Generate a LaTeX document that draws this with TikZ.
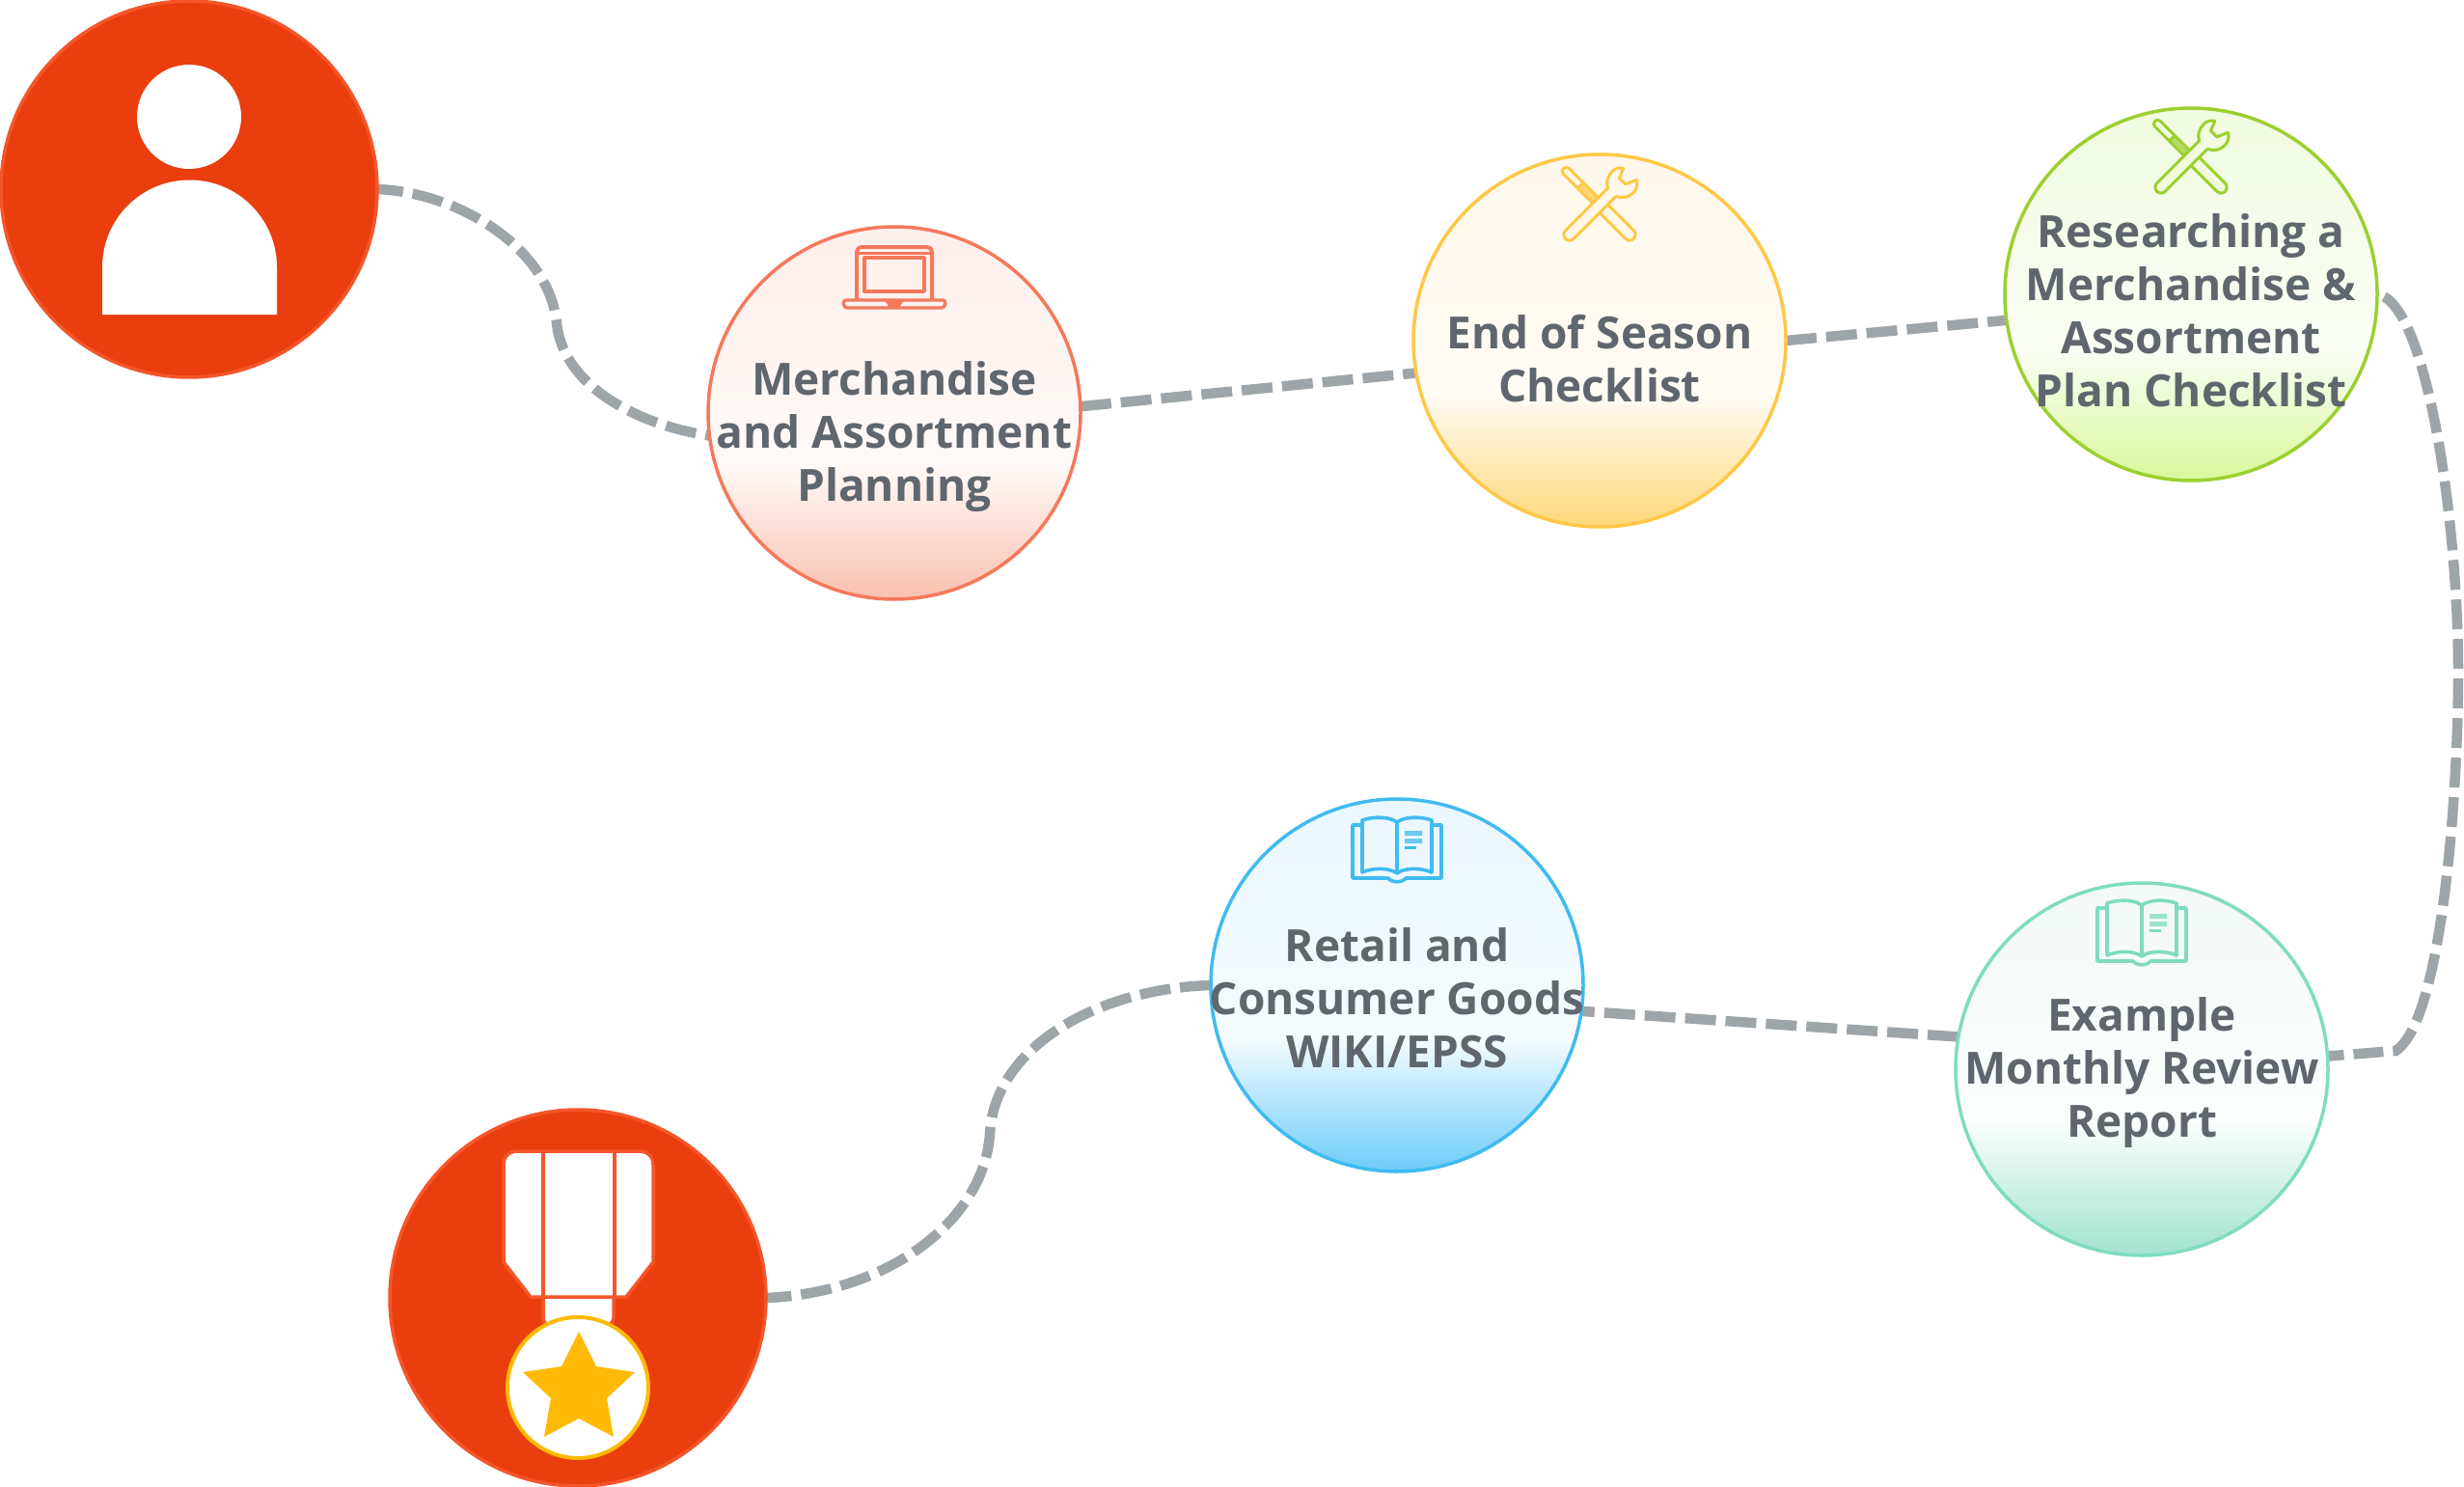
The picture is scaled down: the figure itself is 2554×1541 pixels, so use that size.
\documentclass[tikz,border=0pt]{standalone}
\usepackage{fontspec}
\setmainfont{Open Sans}
\usetikzlibrary{backgrounds}
\definecolor{txt}{HTML}{5F666D}
\definecolor{conn}{HTML}{9EA5A9}
\definecolor{hero}{HTML}{EA3E0E}
\definecolor{heroedge}{HTML}{F4562A}
\definecolor{gold}{HTML}{FFBA08}
\definecolor{mA}{HTML}{F9C0AF}\definecolor{mB}{HTML}{FFFAF8}\definecolor{mC}{HTML}{FDEFEB}\definecolor{mE}{HTML}{F4795B}
\definecolor{eA}{HTML}{FFD77A}\definecolor{eB}{HTML}{FFFCF6}\definecolor{eC}{HTML}{FFF7EA}\definecolor{eE}{HTML}{FFC845}
\definecolor{rA}{HTML}{D8F89C}\definecolor{rB}{HTML}{FBFEF6}\definecolor{rC}{HTML}{F0FBDF}\definecolor{rE}{HTML}{9BD030}
\definecolor{xA}{HTML}{A0E3CE}\definecolor{xB}{HTML}{FBFEFD}\definecolor{xC}{HTML}{F3F9F7}\definecolor{xE}{HTML}{7FDCC0}
\definecolor{wA}{HTML}{6CCCFA}\definecolor{wB}{HTML}{F6FCFF}\definecolor{wC}{HTML}{EAF7FE}\definecolor{wE}{HTML}{3FBBEF}
\newcommand{\mkshade}[4]{\pgfdeclareverticalshading{#1}{100bp}{color(0bp)=(#2);color(25bp)=(#2);color(43bp)=(#3);color(75bp)=(#4);color(100bp)=(#4)}}
\mkshade{shM}{mA}{mB}{mC}
\mkshade{shE}{eA}{eB}{eC}
\mkshade{shR}{rA}{rB}{rC}
\mkshade{shX}{xA}{xB}{xC}
\mkshade{shW}{wA}{wB}{wC}
\newcommand{\wrenchicon}[4]{% x,y,stroke,tint
\begin{scope}[shift={(#1,#2)},rotate=-45,draw=#3,line width=3pt,line join=round]
\draw[fill=#3,fill opacity=.7] (-28,-4) -- (-4,-4) -- (-4,4) -- (-28,4) -- cycle;
\draw[fill=#4] (-28,-4) -- (-49,-4) arc[start angle=-90,end angle=-270,radius=4] -- (-28,4) -- cycle;
\draw[fill=#4] (-4,-6) -- (44,-6) arc[start angle=-90,end angle=90,radius=6] -- (-4,6) -- cycle;
\end{scope}
\begin{scope}[shift={(#1,#2)},rotate=45,draw=#3,line width=3pt,line join=round]
\draw[fill=#4] (-44,-6) -- (18,-6) .. controls (21,-12) and (27,-15) .. (34,-15) .. controls (38,-15) and (42,-13) .. (44,-9) -- (34,-5) -- (34,4) -- (45,9) .. controls (43,14) and (38,16) .. (33,16) .. controls (26,16) and (21,12) .. (18,6) -- (-44,6) arc[start angle=90,end angle=270,radius=6] -- cycle;
\end{scope}}
\newcommand{\bookicon}[3]{% x,y,stroke
\begin{scope}[shift={(#1,#2)},draw=#3,line width=3.6pt,line join=round]
\draw (-36,-25) -- (-46,-25) -- (-46,30) -- (-9,30) .. controls (-6,35) and (6,35) .. (9,30) -- (46,30) -- (46,-25) -- (36,-25);
\draw (0,25) .. controls (-8,19) and (-25,19) .. (-36,24) -- (-36,-30) .. controls (-25,-34) and (-8,-34) .. (0,-28) .. controls (8,-34) and (25,-34) .. (36,-30) -- (36,24) .. controls (25,19) and (8,19) .. (0,25) -- (0,-28);
\fill[#3,opacity=.75] (8,-19) rectangle (26,-14) (8,-11) rectangle (26,-6);
\fill[#3] (8,-3) rectangle (20,0);
\end{scope}}
\tikzset{
  x=1pt,y=-1pt,
  stage/.style={circle,minimum size=386pt,inner sep=0pt,outer sep=0pt,line width=3.5pt},
  hub/.style={circle,minimum size=390pt,inner sep=0pt,outer sep=0pt,fill=hero,draw=heroedge,line width=3.5pt},
  label/.style={align=center,inner sep=0pt,text=txt,font=\fontsize{46}{55}\selectfont\bfseries},
  link/.style={draw=conn,line width=10.5pt,dash pattern=on 32pt off 10pt},
}
\begin{document}
\begin{tikzpicture}
\useasboundingbox (0,0) rectangle (2554,1541);
\node[hub] (person) at (196,196) {};
\node[hub] (medal) at (599,1345) {};
\node[stage,draw=mE,shading=shM] (merch) at (927,428) {};
\node[stage,draw=eE,shading=shE] (season) at (1658,353) {};
\node[stage,draw=rE,shading=shR] (research) at (2271,305) {};
\node[stage,draw=xE,shading=shX] (example) at (2220,1108) {};
\node[stage,draw=wE,shading=shW] (retail) at (1448,1021) {};
\coordinate (wa) at (577,335);
\coordinate (wb) at (2548,696);
\coordinate (wc) at (2483,1089);
\coordinate (wd) at (1026,1175);
\begin{pgfonlayer}{background}
\fill[white] (0,0) rectangle (2554,1541);
\draw[link,dash phase=5pt] (person.east) .. controls (480,200) and (570,260) .. (wa) .. controls (584,400) and (660,440) .. (merch.187);
\draw[link] (merch.2) -- (season.190.5);
\draw[link] (season.0) -- (research.188);
\draw[link,dash pattern=on 31pt off 10pt,dash phase=14pt] (example.4) -- (wc) .. controls (2530,1060) and (2548,830) .. (wb) .. controls (2548,540) and (2515,312) .. (research.east);
\draw[link] (example.170) -- (retail.352);
\draw[link] (retail.west) .. controls (1130,1025) and (1030,1090) .. (wd) .. controls (1020,1265) and (920,1340) .. (medal.east);
\end{pgfonlayer}
% person icon
\fill[white] (196,121) circle[radius=54];
\fill[white] (106,326) -- (106,277) arc[start angle=180,end angle=360,radius=90.5] -- (287,326) -- cycle;
% medal icon
\begin{scope}[draw=heroedge,line width=3.5pt,line join=round]
\draw[fill=white] (563,1344) -- (563,1366) .. controls (563,1370) and (566,1373) .. (570,1373) -- (628,1373) .. controls (632,1373) and (636,1370) .. (636,1366) -- (636,1344);
\draw[fill=white] (522,1207) .. controls (522,1198) and (528,1193) .. (537,1193) -- (662,1193) .. controls (671,1193) and (677,1198) .. (677,1207) -- (677,1308) -- (649,1344) -- (550,1344) -- (522,1308) -- cycle;
\draw (563,1193) -- (563,1344) (637,1193) -- (637,1344);
\end{scope}
\draw[gold,fill=white,line width=4pt] (599,1438) circle[radius=73];
\fill[gold] (600,1380) -- (618,1416) -- (658,1422) -- (629,1449) -- (636,1489) -- (600,1470) -- (564,1489) -- (571,1449) -- (542,1422) -- (582,1416) -- cycle;
% laptop icon
\begin{scope}[draw=mE,line width=3.4pt,line join=round]
\draw[rounded corners=5pt,line width=4pt] (888,310) -- (888,256) -- (966,256) -- (966,310);
\draw[line width=3pt] (888,262) -- (966,262);
\draw (896,267) rectangle (958,302);
\draw[rounded corners=3pt] (874,311) -- (980,311) -- (979,319) -- (875,319) -- cycle;
\fill[mE] (917,311) -- (937,311) -- (932,319) -- (922,319) -- cycle;
\end{scope}
\wrenchicon{1658}{212}{eE}{eC}
\wrenchicon{2271}{163}{rE}{rC}
\bookicon{1448}{880}{wE}
\bookicon{2220}{966}{xE}
\node[label] (merchtext) at (927,453) {Merchandise\\and Assortment\\Planning};
\node[label] (seasontext) at (1658,371.5) {End of Season\\Checklist};
\node[label] (researchtext) at (2271,321.5) {Researching a\\Merchandise \&\\Assortment\\Plan Checklist};
\node[label] (retailtext) at (1448,1034) {Retail and\\Consumer Goods\\WIKI/EPSS};
\node[label] (exampletext) at (2220,1112) {Example\\Monthly Review\\Report};
\end{tikzpicture}
\end{document}
